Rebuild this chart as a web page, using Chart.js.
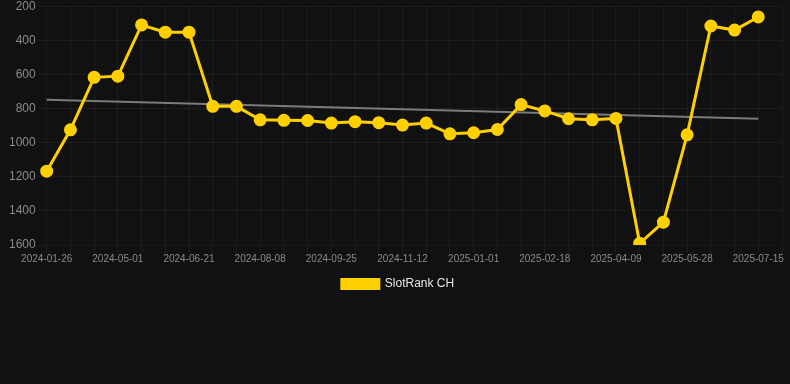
<!DOCTYPE html>
<html>
<head>
<meta charset="utf-8">
<script src="https://cdn.jsdelivr.net/npm/chart.js@4.4.1/dist/chart.umd.min.js"></script>
<style>
  html, body { margin: 0; padding: 0; background: #111111; overflow: hidden; }
  #wrap { position: relative; top: -4px; width: 790px; height: 310px; }
</style>
</head>
<body>
<div id="wrap"><canvas id="myChart"></canvas></div>
<script>
// dates of each sample (last one is an empty slot at the right edge)
const dates = [
  '2024-01-26', '2024-02-27', '2024-03-30', '2024-05-01', '2024-05-18', '2024-06-04',
  '2024-06-21', '2024-07-07', '2024-07-23', '2024-08-08', '2024-08-24', '2024-09-09',
  '2024-09-25', '2024-10-11', '2024-10-27', '2024-11-12', '2024-11-29', '2024-12-15',
  '2025-01-01', '2025-01-17', '2025-02-02', '2025-02-18', '2025-03-07', '2025-03-23',
  '2025-04-09', '2025-04-25', '2025-05-11', '2025-05-28', '2025-06-13', '2025-06-29',
  '2025-07-15', ''
];
const rank = [
  1167, 925, 617, 610, 310, 352, 352, 787, 787, 866, 869, 870,
  885, 877, 883, 897, 885, 948, 942, 923, 777, 814, 860, 866,
  858, 1590, 1466, 954, 316, 340, 263
];
const trendStart = 749;
const trendEnd = 860;

const trend = rank.map((v, i) => (i === 0 ? trendStart : (i === rank.length - 1 ? trendEnd : null)));

const ctx = document.getElementById('myChart');
const PLOT = new Chart(ctx, {
    type: 'line',
    data: {
        labels: dates,
        datasets: [{
            label: 'SlotRank CH',
            data: rank,
            borderColor: '#ffd000',
            backgroundColor: '#ffd000',
            borderWidth: 3,
            pointRadius: 5,
            pointHoverRadius: 5,
            tension: 0
        }, {
            label: 'trend',
            data: trend,
            spanGaps: true,
            borderColor: 'rgba(150,150,150,0.8)',
            borderWidth: 2,
            pointRadius: 0
        }]
    },
    options: {
        responsive: true,
        maintainAspectRatio: false,
        animation: false,
        layout: { padding: { left: 6, right: 0, top: 0, bottom: 6 } },
        plugins: {
            legend: {
                position: 'bottom',
                labels: {
                    color: '#e6e6e6',
                    font: { family: 'Liberation Sans, Arial', size: 12 },
                    boxWidth: 37,
                    boxHeight: 9,
                    padding: 13,
                    filter: (item) => item.text !== 'trend'
                }
            },
            tooltip: { enabled: false }
        },
        scales: {
            x: {
                grid: { color: 'rgba(255,255,255,0.05)' },
                ticks: {
                    color: '#8a8a8a',
                    padding: 0,
                    font: { family: 'Liberation Sans, Arial', size: 10 },
                    autoSkip: false,
                    maxRotation: 0,
                    callback: function (val, idx) {
                        return idx % 3 === 0 ? this.getLabelForValue(val) : '';
                    }
                }
            },
            y: {
                reverse: true,
                min: 200,
                max: 1600,
                grid: { color: 'rgba(255,255,255,0.05)' },
                ticks: {
                    stepSize: 200,
                    color: '#8a8a8a',
                    font: { family: 'Liberation Sans, Arial', size: 12 },
                    callback: (v) => String(v)
                }
            }
        }
    }
});
</script>
</body>
</html>
